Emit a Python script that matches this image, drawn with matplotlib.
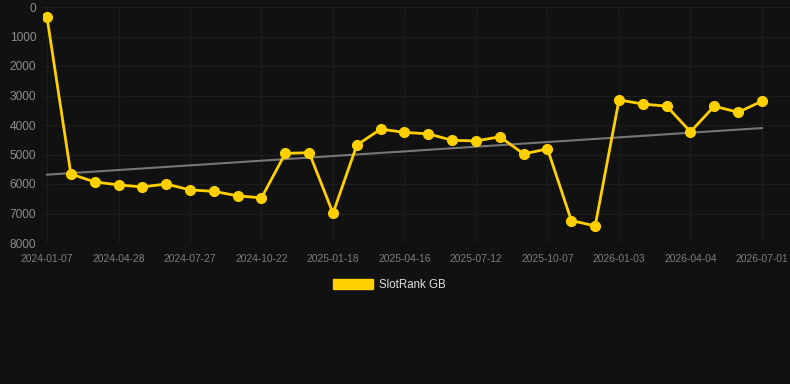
import numpy as np
import matplotlib
matplotlib.use("Agg")
import matplotlib.pyplot as plt
from matplotlib.patches import Patch

# monthly SlotRank GB positions (lower is better)
ranks = [350, 5660, 5930, 6030, 6100, 6000, 6200, 6250, 6400, 6470,
         4960, 4940, 6990, 4680, 4140, 4250, 4300, 4520, 4540, 4400,
         4980, 4810, 7240, 7420, 3150, 3290, 3360, 4230, 3360, 3570, 3190]
tick_labels = ["2024-01-07", "2024-04-28", "2024-07-27", "2024-10-22", "2025-01-18",
               "2025-04-16", "2025-07-12", "2025-10-07", "2026-01-03", "2026-04-04",
               "2026-07-01"]
y_ticks = [0, 1000, 2000, 3000, 4000, 5000, 6000, 7000, 8000]

BG = "#111111"
GOLD = "#FFD000"

plt.rcParams['font.family'] = ['Liberation Sans', 'DejaVu Sans']

x = np.arange(len(ranks))
fig = plt.figure(figsize=(7.9, 3.84), dpi=100, facecolor=BG)
ax = fig.add_axes([43 / 790, 1 - 243 / 384, 747 / 790, 236 / 384])
ax.set_facecolor(BG)

# trend line from a linear fit of the ranks
k, b = np.polyfit(x, ranks, 1)
ax.plot(x, k * x + b, color="#777777", lw=1.5, zorder=2)
ax.plot(x, ranks, color=GOLD, lw=2.0, marker="o", markersize=7, zorder=3)

ax.set_xlim(-4 / 23.83, 30 + 28 / 23.83)
ax.set_ylim(8000, 0)
ax.set_yticks(y_ticks)
ax.set_xticks(x[::3])
ax.set_xticklabels(tick_labels)

ax.grid(True, color="#1d1d1d", lw=0.9)
ax.set_axisbelow(True)
for s in ax.spines.values():
    s.set_visible(False)
ax.tick_params(axis="y", length=0, pad=5, labelsize=8.6, labelcolor="#8c8c8c")
ax.tick_params(axis="x", length=0, pad=8, labelsize=7.4, labelcolor="#7d7d7d")

fig.legend(handles=[Patch(facecolor=GOLD, edgecolor=GOLD)], labels=["SlotRank GB"],
           loc="center", bbox_to_anchor=(0.493, 1 - 285 / 384), frameon=False,
           fontsize=8.3, labelcolor="#dddddd", handlelength=3.5, handleheight=0.87,
           handletextpad=0.5)

fig.savefig("out.png", dpi=100, facecolor=BG)
